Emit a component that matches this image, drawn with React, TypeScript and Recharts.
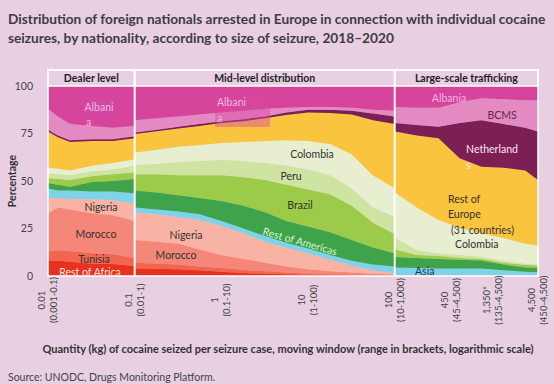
import React from "react"
import { AreaChart, Area, XAxis, YAxis, ReferenceArea, ReferenceLine } from "recharts"

// quantity (kg) per seizure case, centre of the moving window; 0.1 / 100 repeated where the analysis changes
const QUANTITY = [0.01, 0.013, 0.018, 0.032, 0.056, 0.1, 0.101, 0.18, 0.32, 0.56, 1, 1.8, 3.2, 5.6, 10, 18, 32, 56, 100, 101, 180, 320, 560, 1000, 1800, 3200, 4500]

// share of arrested foreign nationals (%), bottom of the stack first
const REST_OF_AFRICA = [8, 8, 7.5, 6.5, 6.3, 5.3, 4, 3.8, 3.5, 3, 2.2, 1.6, 1.2, 0.9, 0.7, 0.5, 0.4, 0.3, 0.25, 0.1, 0.1, 0.1, 0.1, 0.1, 0.1, 0.1, 0.1]
const TUNISIA = [5, 5.5, 5.5, 5.5, 5.2, 4.2, 3, 2.7, 2.5, 2, 2, 1.6, 1.3, 0.9, 0.5, 0.4, 0.3, 0.2, 0.15, 0.1, 0.1, 0.1, 0.1, 0.1, 0.1, 0.1, 0.1]
const MOROCCO = [20, 22.5, 22, 21, 20.5, 19.5, 12, 11.5, 11, 9, 6.8, 5.8, 4.5, 3.2, 2.3, 1.6, 1.1, 0.7, 0.4, 0.1, 0.1, 0.1, 0.1, 0.1, 0.1, 0.1, 0.1]
const NIGERIA = [8, 5, 5.5, 7.5, 8, 9, 14.5, 14.5, 14, 15.5, 15.5, 13.5, 11, 10, 8.5, 6, 3.7, 1.8, 0.7, 0.1, 0.1, 0.1, 0.1, 0.1, 0.1, 0.1, 0.1]
const ASIA = [5, 4, 4.5, 4, 4.5, 5.5, 2.5, 2.5, 3, 3, 2.5, 2.5, 3, 2.5, 2.5, 2.5, 2.5, 3, 3.5, 4.1, 3.8, 3.6, 3.6, 3.6, 2.6, 1.8, 1.6]
const REST_OF_AMERICAS = [3, 3, 2, 5, 5.5, 7.5, 9, 9, 8.5, 8.5, 10.5, 12, 12.5, 11.5, 11.5, 12, 11, 9, 7, 5.5, 5.3, 5, 4.5, 4.2, 3, 2.3, 2.2]
const BRAZIL = [2.5, 3, 3.5, 3, 3.5, 3.5, 8.5, 9.5, 10.5, 12, 13.5, 15, 17, 19, 19.5, 20, 18, 13, 10, 4, 1.5, 1.5, 1, 0.8, 1, 1.3, 1.3]
const PERU = [2.5, 2.5, 2.5, 2.5, 2.5, 3.5, 5, 5.5, 7, 7.5, 8, 8.5, 9, 10, 10.5, 10, 9, 8, 9, 6, 2.5, 1.5, 1.5, 1, 1, 0.7, 0.5]
const COLOMBIA = [3, 3, 2.5, 3, 3.5, 3.5, 6.5, 7.5, 8, 8.5, 9, 10, 11.5, 13.5, 15, 16.5, 18, 17, 15, 24, 22.5, 17.5, 14.5, 12.5, 12, 10.5, 10]
const REST_OF_EUROPE = [19, 16.5, 15, 13, 11.5, 11, 9.7, 9.7, 9.6, 10, 10.5, 11, 12, 13.3, 15, 16.3, 21, 29, 34, 32, 38, 43, 36.5, 35, 37, 38.5, 34.5]
const NETHERLANDS = [1, 1, 1, 1, 1, 1, 0.8, 0.8, 0.9, 1, 1, 1, 1, 1.2, 1.5, 1.7, 2, 3.5, 4, 4.5, 5.5, 6, 18.5, 24.5, 23, 22.5, 25.5]
const BCMS = [11, 10, 8.5, 7, 6, 5.5, 6.5, 6, 5.5, 5, 4.5, 4.5, 4, 2.5, 1.5, 1.5, 1.5, 2, 3, 8.5, 9, 10, 11, 11.5, 13, 14.5, 16.5]
const ALBANIA = [12, 16, 20, 21, 22, 21, 18, 17, 16, 15, 14, 13, 12, 11.5, 11, 11, 11.5, 12.5, 13, 11, 11.5, 11.5, 8.5, 6.5, 7, 7.5, 7.5]

const X_TICKS = [0.01, 0.1, 1, 10, 100, 450, 1350, 4500]
const X_TICK_VALUES = ["0.01", "0.1", "1", "10", "100", "450", "1,350*", "4,500"]
const X_TICK_RANGES = ["(0.001-0.1)", "(0.01-1)", "(0.1-10)", "(1-100)", "(10-1,000)", "(45-4,500)", "(135-4,500)", "(450-4,500)"]
const Y_TICKS = [0, 25, 50, 75, 100]

const SECTION_NAMES = ["Dealer level", "Mid-level distribution", "Large-scale trafficking"]
const SECTION_BOUNDS = [0.01, 0.1, 100, 4500]

const BG = "#e8cfe2"
const FONT = "Lato, 'Open Sans', sans-serif"
const Y_TOP = 108.42 // room above 100 % for the section header row

const SERIES = [
  { key: "restOfAfrica", values: REST_OF_AFRICA, color: "#e8321f" },
  { key: "tunisia", values: TUNISIA, color: "#f2654f" },
  { key: "morocco", values: MOROCCO, color: "#f4877a" },
  { key: "nigeria", values: NIGERIA, color: "#f9b3a4" },
  { key: "asia", values: ASIA, color: "#7dd3ea" },
  { key: "restOfAmericas", values: REST_OF_AMERICAS, color: "#3ea34a" },
  { key: "brazil", values: BRAZIL, color: "#9ccb4a" },
  { key: "peru", values: PERU, color: "#cfe3a3" },
  { key: "colombia", values: COLOMBIA, color: "#e7efd0" },
  { key: "restOfEurope", values: REST_OF_EUROPE, color: "#fbc43f" },
  { key: "netherlands", values: NETHERLANDS, color: "#7b1f55" },
  { key: "bcms", values: BCMS, color: "#e48ac3" },
  { key: "albania", values: ALBANIA, color: "#d6449c" },
]

const data = QUANTITY.map((q, i) => {
  const row: Record<string, number> = { q }
  SERIES.forEach((s) => {
    row[s.key] = s.values[i]
  })
  return row
})

function QuantityTick({ x, y, payload }: any) {
  const i = X_TICKS.indexOf(payload.value)
  return (
    <g transform={`translate(${x},${y + 24}) rotate(-90)`}>
      <text x={0} y={-3} textAnchor="middle" fontSize={9.5} fill="#444" fontFamily={FONT}>
        {X_TICK_VALUES[i]}
      </text>
      <text x={0} y={9} textAnchor="middle" fontSize={9.5} fill="#444" fontFamily={FONT}>
        {X_TICK_RANGES[i]}
      </text>
    </g>
  )
}

// in-chart nationality labels, placed like the original
const LABELS: { text: string; x: number; y: number; color: string; anchor?: string; rotate?: number }[] = [
  { text: "Albani", x: 99, y: 111, color: "#f6b3e2", anchor: "middle" },
  { text: "a", x: 86, y: 126, color: "#f6b3e2" },
  { text: "Nigeria", x: 101, y: 211, color: "#333", anchor: "middle" },
  { text: "Morocco", x: 96, y: 238, color: "#333", anchor: "middle" },
  { text: "Tunisia", x: 94, y: 263, color: "#333", anchor: "middle" },
  { text: "Rest of Africa", x: 90, y: 276, color: "#fde0dc", anchor: "middle" },
  { text: "Albani", x: 217, y: 106, color: "#f6b3e2" },
  { text: "a", x: 217, y: 122, color: "#f6b3e2" },
  { text: "Nigeria", x: 186, y: 239, color: "#333", anchor: "middle" },
  { text: "Morocco", x: 176, y: 259, color: "#333", anchor: "middle" },
  { text: "Colombia", x: 312, y: 158, color: "#333", anchor: "middle" },
  { text: "Peru", x: 291, y: 180, color: "#333", anchor: "middle" },
  { text: "Brazil", x: 300, y: 209, color: "#333", anchor: "middle" },
  { text: "Rest of Americas", x: 299, y: 245, color: "#d8f3cf", anchor: "middle", rotate: 16 },
  { text: "Albania", x: 449, y: 102, color: "#f6b3e2", anchor: "middle" },
  { text: "BCMS", x: 502, y: 119, color: "#5a2a48", anchor: "middle" },
  { text: "Netherland", x: 492, y: 153, color: "#fbe6f3", anchor: "middle" },
  { text: "s", x: 466, y: 169, color: "#fbe6f3" },
  { text: "Rest of", x: 448, y: 203, color: "#333" },
  { text: "Europe", x: 448, y: 218, color: "#333" },
  { text: "(31 countries)", x: 451, y: 234, color: "#333" },
  { text: "Colombia", x: 455, y: 248, color: "#333" },
  { text: "Asia", x: 415, y: 275, color: "#1d3557" },
]

export default function App() {
  return (
    <div style={{ position: "absolute", left: 0, top: 0, width: 554, height: 384, background: BG, fontFamily: FONT }}>
      <AreaChart width={554} height={384} data={data} margin={{ top: 70, right: 16, bottom: 38, left: 0 }}>
        <XAxis
          dataKey="q"
          type="number"
          scale="log"
          domain={[0.01, 4500]}
          allowDataOverflow
          ticks={X_TICKS}
          interval={0}
          height={70}
          axisLine={false}
          tickLine={false}
          tickSize={0}
          tickMargin={0}
          tick={<QuantityTick />}
        />
        <YAxis
          type="number"
          domain={[0, Y_TOP]}
          allowDataOverflow
          ticks={Y_TICKS}
          width={48}
          axisLine={false}
          tickLine={false}
          tickSize={0}
          tickMargin={15}
          tick={{ fontSize: 10.5, fill: "#444", fontFamily: FONT }}
        />
        {SERIES.map((s) => (
          <Area
            key={s.key}
            dataKey={s.key}
            stackId="1"
            type="linear"
            fill={s.color}
            fillOpacity={1}
            stroke={s.color}
            strokeWidth={0.6}
            dot={false}
            activeDot={false}
            isAnimationActive={false}
          />
        ))}
        {SECTION_NAMES.map((name, i) => (
          <ReferenceArea
            key={name}
            x1={SECTION_BOUNDS[i]}
            x2={SECTION_BOUNDS[i + 1]}
            y1={100}
            y2={Y_TOP}
            fill={BG}
            fillOpacity={1}
            stroke="#fff"
            strokeWidth={1.5}
            label={{ value: name, position: "center", fontSize: 10.5, fontWeight: 700, fill: "#222", fontFamily: FONT }}
          />
        ))}
        <ReferenceArea x1={0.01} x2={4500} y1={0} y2={Y_TOP} fill="none" fillOpacity={0} stroke="#fff" strokeWidth={1.5} />
        <ReferenceLine x={0.1} stroke="#fff" strokeWidth={2} />
        <ReferenceLine x={100} stroke="#fff" strokeWidth={2} />
      </AreaChart>

      <svg width={554} height={384} style={{ position: "absolute", left: 0, top: 0, pointerEvents: "none" }} fontFamily={FONT}>
        <text x={8} y={24} fontSize={13.7} fontWeight={700} fill="#3d3d3d">
          Distribution of foreign nationals arrested in Europe in connection with individual cocaine
        </text>
        <text x={8} y={43} fontSize={13.7} fontWeight={700} fill="#3d3d3d">
          seizures, by nationality, according to size of seizure, 2018–2020
        </text>
        <text transform="translate(16,181) rotate(-90)" textAnchor="middle" fontSize={10.5} fontWeight={700} fill="#333">
          Percentage
        </text>
        <rect x={83} y={101} width={32} height={13} fill="#cf4aa8" />
        <rect x={215} y={98} width={55} height={29} fill="#d84aa0" fillOpacity={0.45} />
        {LABELS.map((l, i) => (
          <text
            key={i}
            x={l.x}
            y={l.y}
            fontSize={10.5}
            fill={l.color}
            textAnchor={l.anchor || "start"}
            transform={l.rotate ? `rotate(${l.rotate},${l.x},${l.y})` : undefined}
          >
            {l.text}
          </text>
        ))}
        <text x={288} y={353} textAnchor="middle" fontSize={11} fontWeight={700} fill="#333">
          Quantity (kg) of cocaine seized per seizure case, moving window (range in brackets, logarithmic scale)
        </text>
        <text x={8} y={381} fontSize={10.5} fill="#444">
          Source: UNODC, Drugs Monitoring Platform.
        </text>
      </svg>
    </div>
  )
}
